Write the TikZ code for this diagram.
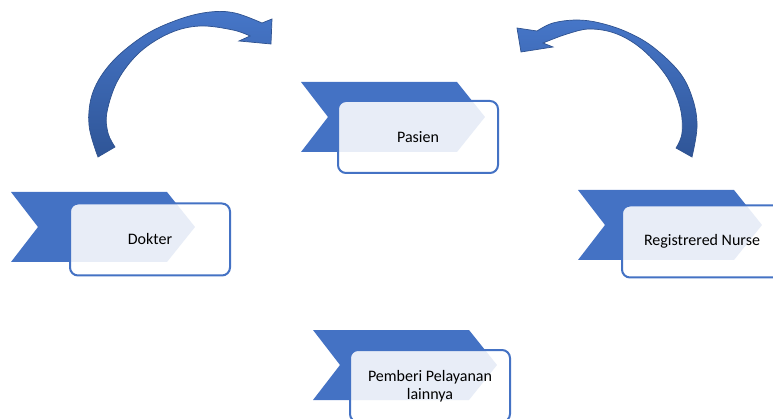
\documentclass[tikz,border=0pt]{standalone}
\usepackage{fontspec}
\setmainfont{Carlito}
\definecolor{chevblue}{HTML}{4472C4}
\definecolor{arrowlight}{HTML}{4676C8}
\definecolor{arrowdark}{HTML}{2F5597}
\definecolor{arrowline}{HTML}{2F528F}
\begin{document}
\begin{tikzpicture}[x=1pt,y=-1pt,
  pics/chevron/.style={code={
    \fill[chevblue] (0,0) -- (156,0) -- (184,35) -- (156,70) -- (0,70) -- (27,35) -- cycle;}},
  labelbox/.style={draw=chevblue, line width=2pt, rounded corners=8pt,
    fill=white, fill opacity=0.88, text opacity=1,
    minimum width=160pt, minimum height=72pt, inner sep=0pt,
    font=\fontsize{16}{18}\selectfont, align=center, text=black},
  blockarrow/.style={draw=arrowline, line width=0.7pt, top color=arrowlight, bottom color=arrowdark}
]
\useasboundingbox (0,0) rectangle (773,419);
% Pasien
\pic at (301,82) {chevron};
\node[labelbox] (pasien) at (418,137) {Pasien};
% Dokter
\pic at (11,192) {chevron};
\node[labelbox] (dokter) at (150,239.5) {Dokter};
% Registered nurse
\pic at (578,190) {chevron};
\node[labelbox] (nurse) at (702,241.5) {Registrered Nurse};
% Pemberi
\pic at (313,330) {chevron};
\node[labelbox] (pemberi) at (430,386) {Pemberi Pelayanan\\lainnya};
% left curved arrow
\path[blockarrow]
  plot[smooth,tension=0.6] coordinates {(98,157) (89,125) (93,92) (112,62) (145,35) (180,19) (210,12) (235,13) (262,23)}
  -- (272,19) -- (271,44) -- (239,41) --
  plot[smooth,tension=0.6] coordinates {(250,36) (233,30) (200,26) (170,33) (140,52) (118,80) (107,112) (108,133) (115,147)}
  -- cycle;
% right curved arrow
\path[blockarrow]
  plot[smooth,tension=0.6] coordinates {(692,157) (697,127) (693,100) (680,73) (653,47) (627,32) (600,23) (577,20) (553,23) (537,31)}
  -- (517,28) -- (521,52) -- (553,47) --
  plot[smooth,tension=0.6] coordinates {(543,43) (567,34) (590,29) (617,34) (643,50) (667,77) (680,107) (682,133) (676,148)}
  -- cycle;
\end{tikzpicture}
\end{document}
